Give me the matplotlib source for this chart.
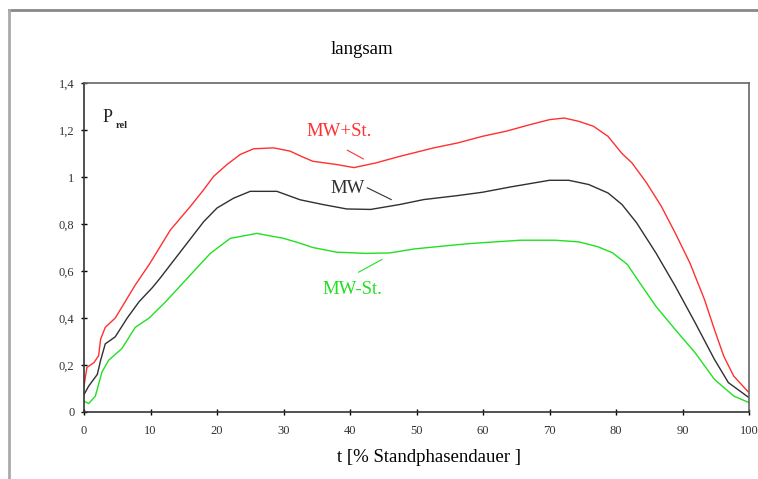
import matplotlib
matplotlib.use("Agg")
import matplotlib.pyplot as plt
from matplotlib.lines import Line2D

# t [% Standphasendauer] and relative pressure for the three curves
t_plus = [0, 0.44, 1.5, 2.2, 2.5, 3.2, 4.7, 6.2, 7.7, 9.9, 13, 16, 18, 19.5, 21.5, 23.5,
          25.5, 28.5, 31, 32.5, 34.4, 38, 40.6, 43.9, 47.5, 52.6, 56.2, 59.9, 63.5, 67.1,
          70, 72.2, 74.4, 76.6, 78.8, 80.9, 82.4, 84.6, 86.8, 88.9, 91.1, 93.3, 94.8, 96.2,
          97.7, 100]
p_plus = [0.11, 0.19, 0.21, 0.24, 0.31, 0.36, 0.40, 0.47, 0.54, 0.632, 0.775, 0.875, 0.946,
          1.003, 1.053, 1.096, 1.12, 1.124, 1.11, 1.09, 1.067, 1.053, 1.04, 1.06, 1.088,
          1.124, 1.145, 1.173, 1.195, 1.223, 1.244, 1.251, 1.237, 1.216, 1.173, 1.10, 1.06,
          0.975, 0.876, 0.762, 0.635, 0.479, 0.351, 0.238, 0.153, 0.082]

t_mw = [0, 0.7, 2, 2.5, 3.2, 4.7, 6.5, 8.3, 10.3, 11.4, 15, 18, 20, 22.5, 25, 29, 32.5,
        35.9, 39.5, 43.1, 47.5, 51.1, 56.2, 59.9, 64.2, 67.1, 70, 72.9, 75.9, 78.8, 80.9,
        83.1, 86, 88.9, 91.9, 94.8, 96.9, 100]
p_mw = [0.074, 0.11, 0.16, 0.22, 0.29, 0.32, 0.40, 0.47, 0.53, 0.568, 0.70, 0.81, 0.868,
        0.91, 0.939, 0.939, 0.903, 0.883, 0.864, 0.862, 0.883, 0.904, 0.921, 0.935, 0.958,
        0.972, 0.986, 0.986, 0.968, 0.932, 0.883, 0.805, 0.677, 0.536, 0.38, 0.224, 0.125,
        0.061]

t_minus = [0, 0.7, 1.7, 2.7, 3.7, 5.7, 7.7, 9.8, 12.3, 15.5, 19, 22, 26, 30, 32.5, 34.4,
           38, 42.4, 46, 49.7, 54, 57.7, 61.3, 65.7, 70.8, 74.4, 77.3, 79.5, 81.7, 83.9,
           86, 88.9, 91.9, 94.8, 97.7, 100]
p_minus = [0.046, 0.036, 0.067, 0.17, 0.22, 0.27, 0.36, 0.40, 0.47, 0.568, 0.675, 0.739,
           0.76, 0.739, 0.718, 0.70, 0.68, 0.675, 0.677, 0.694, 0.706, 0.716, 0.723, 0.731,
           0.731, 0.724, 0.703, 0.677, 0.628, 0.536, 0.45, 0.351, 0.252, 0.139, 0.068, 0.04]

x_ticks = [0, 10, 20, 30, 40, 50, 60, 70, 80, 90, 100]
y_ticks = [0, 0.2, 0.4, 0.6, 0.8, 1.0, 1.2, 1.4]
y_labels = ["0", "0,2", "0,4", "0,6", "0,8", "1", "1,2", "1,4"]

serif = "Liberation Serif"
red, black, green = "#ff3030", "#303030", "#20e020"

fig = plt.figure(figsize=(7.58, 4.79), dpi=100)
ax = fig.add_axes([84 / 758, 1 - 412 / 479, 665 / 758, 329 / 479])

ax.plot(t_plus, p_plus, color=red, lw=1)
ax.plot(t_mw, p_mw, color=black, lw=1)
ax.plot(t_minus, p_minus, color=green, lw=1)

ax.set_xlim(0, 100)
ax.set_ylim(0, 1.4)
ax.set_xticks(x_ticks)
ax.set_xticklabels([str(v) for v in x_ticks], fontfamily=serif, fontsize=9, color="#333")
ax.set_yticks(y_ticks)
ax.set_yticklabels(y_labels, fontfamily=serif, fontsize=9, color="#333")
ax.tick_params(direction="inout", length=4, width=1)
ax.tick_params(axis="x", pad=7)
ax.tick_params(axis="y", pad=5)
for side in ["left", "bottom"]:
    ax.spines[side].set_color("#333")
    ax.spines[side].set_linewidth(1.2)
for side in ["top", "right"]:
    ax.spines[side].set_color("#666")
    ax.spines[side].set_linewidth(1.2)

# curve labels with leader lines
ax.text(38.3, 1.194, "MW+St.", color=red, fontfamily=serif, fontsize=13.5,
        ha="center", va="center")
ax.plot([39.6, 42], [1.114, 1.077], color=red, lw=0.8)
ax.text(39.7, 0.952, "MW", color=black, fontfamily=serif, fontsize=13.5,
        ha="center", va="center")
ax.plot([42.6, 46.2], [0.954, 0.904], color=black, lw=0.8)
ax.text(40.4, 0.52, "MW-St.", color=green, fontfamily=serif, fontsize=13.5,
        ha="center", va="center")
ax.plot([41.3, 44.8], [0.595, 0.649], color=green, lw=0.8)

ax.text(2.8, 1.255, "P", fontfamily=serif, fontsize=13, ha="left", va="center", color="#222")
ax.text(4.7, 1.22, "rel", fontfamily=serif, fontsize=7.5, fontweight="bold",
        ha="left", va="center", color="#222")

fig.text(362 / 758, 1 - 50 / 479, "langsam", fontfamily=serif, fontsize=13.5,
         ha="center", va="center")
fig.text(429 / 758, 1 - 458 / 479, "t [% Standphasendauer ]", fontfamily=serif,
         fontsize=13.5, ha="center", va="center")

# outer gray frame
fig.add_artist(Line2D([8.5 / 758, 1], [1 - 10 / 479, 1 - 10 / 479], color="#888", lw=2))
fig.add_artist(Line2D([8.5 / 758, 8.5 / 758], [0, 1 - 10 / 479], color="#aaa", lw=2))

fig.savefig("out.png", dpi=100)
